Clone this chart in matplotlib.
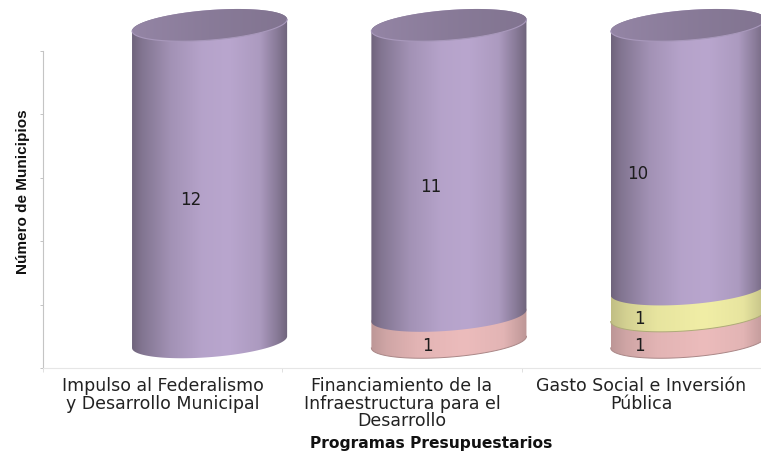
import matplotlib
matplotlib.use('Agg')
import matplotlib.pyplot as plt
from matplotlib.colors import LinearSegmentedColormap, to_rgb
from matplotlib.patches import Polygon
import numpy as np

# data
programas = ['Impulso al Federalismo\ny Desarrollo Municipal',
             'Financiamiento de la\nInfraestructura para el\nDesarrollo',
             'Gasto Social e Inversión\nPública']
rosa = [0, 1, 1]
amarillo = [0, 0, 1]
morado = [12, 11, 10]
series = [rosa, amarillo, morado]
colores = ['#ecbcbc', '#f1eea6', '#b9a6ce']
corrimiento_grande = [-0.08, -0.075, -0.21]
corrimiento_uno = [0, -0.09, -0.205]

# fake 3d geometry, in axis units
radio = 0.324
dx3d = 0.196
dy3d = 0.98
alto_elipse = 0.57
inclina = 0.22

plt.rcParams['font.family'] = ['Liberation Sans', 'DejaVu Sans']


def arco(cx, y, t):
    x = cx + radio * np.cos(t)
    yy = y + alto_elipse * np.sin(t) + inclina * np.cos(t)
    return np.column_stack([x, yy])


def relleno(ax, verts, cmap, cx, y0, y1, z):
    parche = Polygon(verts, closed=True, transform=ax.transData, fc='none', ec='none')
    ax.add_patch(parche)
    grad = np.linspace(0, 1, 256).reshape(1, -1)
    im = ax.imshow(grad, cmap=cmap, vmin=0, vmax=1, aspect='auto', origin='lower',
                   extent=[cx - radio, cx + radio, y0, y1], zorder=z, interpolation='bilinear')
    im.set_clip_path(parche)
    im.set_clip_box(fig.bbox)


def gradiente(color, stops):
    c = np.array(to_rgb(color))
    return LinearSegmentedColormap.from_list(
        'g', [(p, tuple(np.clip(c * f, 0, 1))) for p, f in stops])


cuerpo = [(0, 0.60), (0.06, 0.70), (0.25, 0.88), (0.45, 0.98), (0.62, 1.0),
          (0.82, 0.93), (0.93, 0.74), (1, 0.60)]
cuerpo_suave = [(0, 0.80), (0.10, 0.88), (0.30, 0.96), (0.60, 1.0),
                (0.85, 0.96), (1, 0.80)]
tapa = [(0, 0.80), (0.5, 0.74), (1, 0.70)]

fig = plt.figure(figsize=(7.61, 4.56), dpi=100)
ax = fig.add_axes([43 / 761, 1 - 369 / 456, 718 / 761, 317 / 456])
ax.set_xlim(-0.5, 2.5)
ax.set_ylim(0, 12)

t_frente = np.linspace(np.pi, 2 * np.pi, 80)
t_atras = np.linspace(0, np.pi, 80)
t_todo = np.linspace(0, 2 * np.pi, 160)

for i in range(len(programas)):
    cx = i + dx3d
    base = 0
    z = 3
    for serie, color in zip(series, colores):
        v = serie[i]
        if v == 0:
            continue
        y0 = base + dy3d
        y1 = base + v + dy3d
        low = arco(cx, y0, t_frente)
        up = arco(cx, y1, t_atras)
        verts = np.vstack([low, up])
        stops = cuerpo if serie is morado else cuerpo_suave
        relleno(ax, verts, gradiente(color, stops), cx, y0 - 1, y1 + 1, z)
        if serie is not morado:
            ax.plot(low[:, 0], low[:, 1], color=np.array(to_rgb(color)) * 0.72, lw=0.7,
                    zorder=z + 0.5, clip_on=False)
        if serie is morado:
            borde = arco(cx, y1, t_todo)
            relleno(ax, borde, gradiente(color, tapa), cx, y1 - 1, y1 + 1, z + 0.2)
            frente = arco(cx, y1, t_frente)
            ax.plot(frente[:, 0], frente[:, 1], color='#a898bb', lw=0.8, zorder=z + 0.5,
                    clip_on=False)
        desp = corrimiento_grande[i] if v > 1 else corrimiento_uno[i]
        ax.text(cx + desp, y0 + v / 2 - 0.60, str(v), ha='center', va='center',
                fontsize=12, color='#1c1c1c', zorder=z + 1, family='DejaVu Sans')
        base += v
        z += 1

# axes
for s in ['top', 'right']:
    ax.spines[s].set_visible(False)
ax.spines['left'].set_color('#c4c4c4')
ax.spines['left'].set_linewidth(0.8)
ax.spines['bottom'].set_color('#e6e6e6')
ax.spines['bottom'].set_linewidth(0.8)
ax.set_yticks(np.arange(0, 12.1, 2.4))
ax.set_yticklabels([])
ax.tick_params(axis='y', length=2, width=0.7, color='#c4c4c4')
ax.set_xticks([-0.5, 0.5, 1.5, 2.5])
ax.set_xticklabels([])
ax.tick_params(axis='x', which='major', length=3, width=0.7, color='#e0e0e0')
ax.set_xticks([0, 1, 2], minor=True)
ax.set_xticklabels(programas, minor=True, fontsize=12.5, color='#222222', linespacing=0.97,
                   family='DejaVu Sans')
ax.tick_params(axis='x', which='minor', length=0, pad=6)

ax.set_ylabel('Número de Municipios', fontsize=11, fontweight='bold', color='#111111',
              labelpad=0)
ax.yaxis.set_label_coords(-0.0175, 0.558)
ax.text(0.54, -0.235, 'Programas Presupuestarios', transform=ax.transAxes, ha='center',
        va='center', fontsize=11.2, fontweight='bold', color='#111111', family='DejaVu Sans')

plt.savefig('out.png', dpi=100)
